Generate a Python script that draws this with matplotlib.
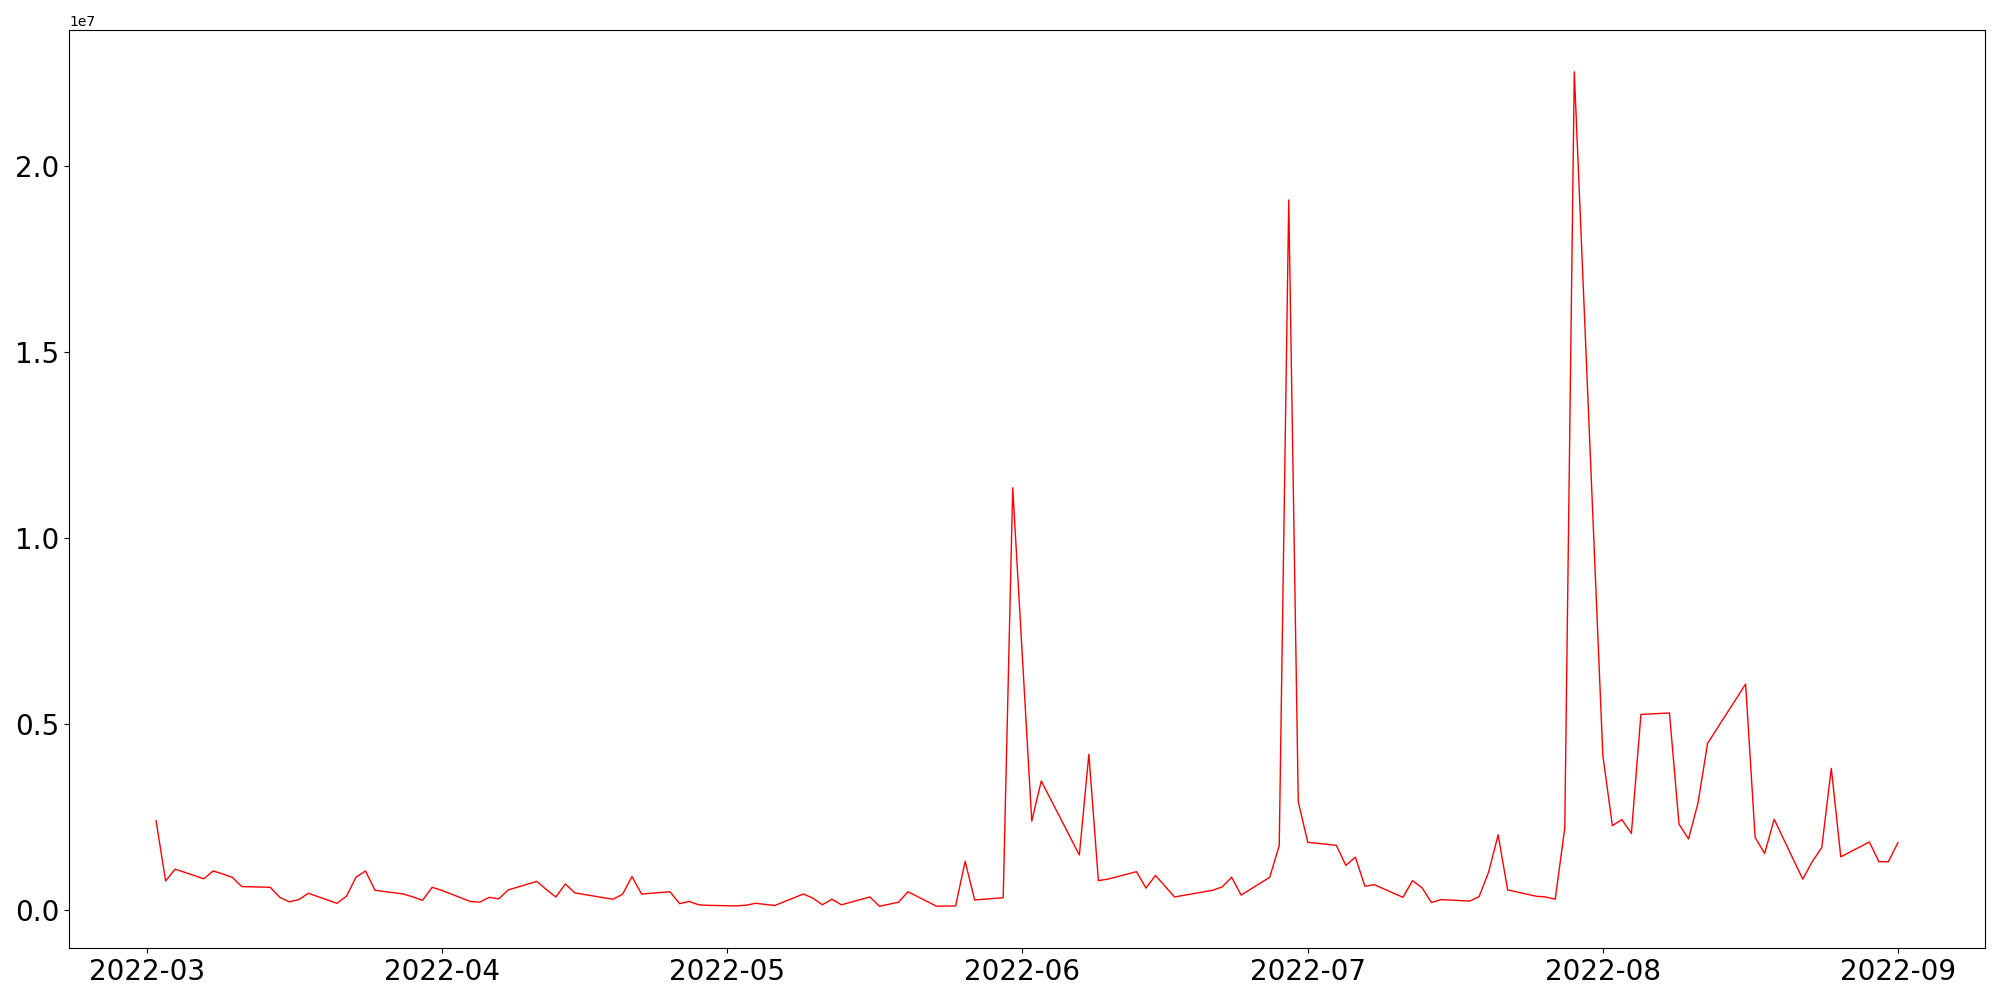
from matplotlib import pyplot as plt
import pandas as pd

# trading days (weekdays) from 2022-03-02 to 2022-09-01
date = pd.bdate_range('2022-03-02', '2022-09-01')

# values in millions, one list per month
mar = [2.39, 0.77, 1.09, 0.83, 1.04, 0.96, 0.87, 0.62, 0.60, 0.33, 0.21,
       0.27, 0.44, 0.17, 0.36, 0.87, 1.04, 0.52, 0.42, 0.34, 0.25, 0.60]
apr = [0.52, 0.22, 0.20, 0.33, 0.29, 0.53, 0.76, 0.54, 0.34, 0.69, 0.45,
       0.32, 0.28, 0.41, 0.89, 0.42, 0.48, 0.16, 0.22, 0.13, 0.115]
may = [0.10, 0.12, 0.17, 0.14, 0.11, 0.42, 0.31, 0.13, 0.28, 0.13, 0.34,
       0.09, 0.145, 0.20, 0.48, 0.09, 0.095, 0.10, 1.30, 0.26, 0.32, 11.35]
jun = [6.87, 2.38, 3.46, 1.97, 1.47, 4.18, 0.78, 0.82, 1.02, 0.58, 0.92,
       0.63, 0.34, 0.475, 0.52, 0.61, 0.87, 0.39, 0.87, 1.72, 19.09, 2.90]
jul = [1.81, 1.73, 1.19, 1.41, 0.63, 0.67, 0.33, 0.78, 0.59, 0.19, 0.27,
       0.23, 0.35, 1.01, 2.01, 0.53, 0.36, 0.34, 0.28, 2.20, 22.54]
aug = [4.15, 2.26, 2.42, 2.05, 5.25, 5.29, 2.30, 1.90, 2.87, 4.47, 5.67,
       6.07, 1.94, 1.51, 2.43, 0.82, 1.29, 1.67, 3.80, 1.42, 1.82, 1.29, 1.29]
sep = [1.80]

values = [v * 1e6 for v in mar + apr + may + jun + jul + aug + sep]

fig = plt.figure(dpi=100, figsize=(20, 10))
plt.subplots_adjust(left=0.0345, right=0.9925, top=0.97, bottom=0.052)
plt.plot(date, values, c='red', linewidth=1)
plt.tick_params(axis='both', which='major', labelsize=20)
plt.savefig('out.png')
